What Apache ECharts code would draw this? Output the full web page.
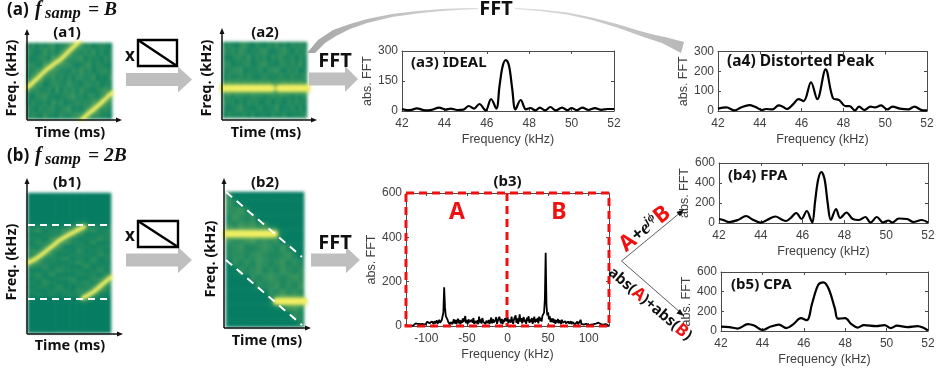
<!DOCTYPE html>
<html><head><meta charset="utf-8">
<style>
html,body{margin:0;padding:0;background:#fff;overflow:hidden}
#spec,#main{position:absolute;left:0;top:0;width:939px;height:372px}
#spec{filter:blur(1.6px)}
</style>
<script src="https://cdn.jsdelivr.net/npm/echarts@6/dist/echarts.min.js"></script>
</head><body>
<div id="spec"></div><div id="main"></div>
<script>
// ---------- FFT curves ----------
const a3Freq=[42,42.25,42.45,42.7,43.1,43.4,43.75,44.05,44.3,44.6,44.9,45.15,45.4,45.65,45.95,46.2,46.45,46.6,46.75,46.9,47.05,47.2,47.35,47.6,47.85,48.05,48.3,48.5,48.75,49,49.25,49.55,49.8,50,50.25,50.5,50.8,51.1,51.4,51.7,52];
const a3Amp=[10,4,6,13,3,6,17,7,12,5,7,25,12,35,3,60,12,125,225,255,225,110,8,55,8,15,3,17,3,20,3,17,4,15,4,17,5,14,6,10,10];
const a4Freq=[42,42.4,42.8,43.1,43.5,43.8,44.1,44.3,44.6,44.9,45.1,45.3,45.6,45.85,46.1,46.45,46.75,47.15,47.5,47.8,48.1,48.3,48.55,48.75,49,49.3,49.5,49.8,50.1,50.35,50.7,51.1,51.4,51.8,52];
const a4Amp=[12,18,3,18,30,20,5,10,8,28,22,10,35,60,50,145,60,210,65,55,25,25,3,22,5,22,18,28,8,22,12,8,22,3,3];
const b4Freq=[42,42.2,42.5,42.9,43.3,43.6,44,44.3,44.7,45,45.2,45.4,45.7,45.95,46.2,46.4,46.47,46.6,46.75,46.9,47.05,47.2,47.35,47.6,47.8,48.1,48.4,48.7,49,49.25,49.55,49.85,50.1,50.3,50.6,51,51.3,51.7,52];
const b4Amp=[40,30,10,30,70,35,3,30,65,35,20,45,100,40,120,30,3,220,440,510,440,200,30,140,50,105,40,30,60,5,60,5,25,5,45,40,10,30,5];
const b5Freq=[42,42.4,42.8,43.3,43.6,44,44.4,44.8,45.15,45.5,45.85,46.15,46.4,46.7,46.95,47.2,47.5,47.65,48,48.3,48.6,48.9,49.5,49.9,50.2,50.5,51,51.5,51.8,52];
const b5Amp=[45,40,25,70,55,10,45,65,30,70,130,110,280,470,495,430,230,125,130,70,35,60,50,60,30,55,40,50,30,5];
// full-band spectrum, one value per kHz from -125 to 125
const b3Amp=[
3,2,3,2,4,3,2,3,4,3,
5,9,12,10,7,9,6,4,8,11,
7,9,5,10,6,8,19,16,22,13,
18,11,20,14,9,22,12,17,25,10,
18,28,14,22,26,18,60,175,85,45,
52,30,18,24,7,18,26,8,16,30,
11,27,9,22,33,12,28,8,25,14,
34,18,10,45,13,26,8,30,17,24,
10,28,15,36,9,22,31,12,26,8,
42,16,30,11,36,20,12,28,9,24,
33,13,27,10,24,38,12,30,16,8,
26,40,10,22,15,42,24,12,32,9,
28,18,35,44,22,40,12,28,36,16,
42,20,10,30,24,48,14,34,10,26,
52,20,36,12,30,40,18,28,10,38,
22,44,14,30,18,36,10,26,42,16,
30,20,36,12,42,24,38,20,46,52,
60,120,330,95,48,62,30,44,18,34,
18,34,14,30,10,26,16,32,12,26,
24,10,28,14,20,8,22,12,18,6,
20,10,14,22,8,18,10,16,7,14,
10,20,7,12,9,28,10,8,14,6,
12,5,10,7,9,4,8,12,6,9,
5,8,4,7,11,14,16,15,12,13,
9,7,5,6,4,8,9,6,4,3,
2];
const b3Ticks=[-100,-50,0,50,100];

// ---------- spectrogram intensity cells (0-9), one string per row, top row first ----------
const a1Cells=["231323412232132312321","321242312341223241312","212331423122341322132","332142213332123413221","223241332213242312332","132322423131332241213","241312332242213323122","323223141323142212341","213342212234231331212","132231423122323242323","321323312341212332132","232142213223321223221"];
const a2Cells=["232134213213242313232","323243122342123421323","212332413231324223132","331223312342213323241","223341222313342132312","132232321232223223223","232323232323232323232","222222322232223222322","231322132212323221213","323131323123132132322","212342212312241223131","132223131221322312223"];
const b1Cells=["000000000000","000000000000","000000000000","000000000000","000000000000","000000000000","000000000000","000000000000","122112211221","231223122312","112211321122","221322112232","132113221311","212231122122","321122131221","122311222132","211223121312","132211232211","223122113122","112232221231","231311122212","122122311321","213211223112","122131122221","211222131122","121212212111","000000000000","000000000000","000000000000","000000000000","000000000000","000000000000","000000000000","000000000000","000000000000"];
const b2Cells=["3000000000000","4200000000000","3342000000000","2432300000000","3243423000000","2334232300000","3223423230000","2342234324200","2332343223420","0323243234232","0032342324323","0000323432343","0000032342324","0000000324232","0000000023423","0000000000342","0000000000032","0000000000002"];

// ---------- spectrogram ridges: [time fraction, frequency fraction] ----------
const a1Ridge1=[[0,.41],[.1,.51],[.2,.62],[.3,.71],[.4,.79],[.5,.9],[.62,1.02]];
const a1Ridge2=[[.63,-.02],[.72,.07],[.8,.14],[.9,.24],[1,.35]];
const a2Ridge1=[[0,.39],[.2,.39],[.4,.39],[.58,.39]];
const a2Ridge2=[[.67,.39],[.85,.39],[1,.39]];
const b1Ridge1=[[0,.5],[.12,.54],[.25,.6],[.4,.67],[.55,.72],[.68,.76]];
const b1Ridge2=[[.66,.25],[.78,.29],[.88,.34],[1,.4]];
const b2Ridge1=[[0,.69],[.2,.69],[.4,.69],[.62,.69]];
const b2Ridge2=[[.65,.19],[.8,.19],[1,.19]];

const MONO='"Noto Sans",sans-serif', HELV='"Liberation Sans",Arial,sans-serif', SER='"Liberation Serif",serif';

// ---------- spectrogram layer ----------
const specPanels=[
 {box:[27,43,85,76],cells:a1Cells,ridges:[a1Ridge1,a1Ridge2],w:4},
 {box:[223,42,84,76],cells:a2Cells,ridges:[a2Ridge1,a2Ridge2],w:7},
 {box:[28,193,83,140],cells:b1Cells,ridges:[b1Ridge1,b1Ridge2],w:4},
 {box:[226,192,78,135],cells:b2Cells,ridges:[b2Ridge1,b2Ridge2],w:7}
];
const sg=[],sx=[],sy=[],ss=[],heatIdx=[];
specPanels.forEach((p,i)=>{
  sg.push({left:p.box[0],top:p.box[1],width:p.box[2],height:p.box[3],containLabel:false});
  const rows=p.cells.length,cols=p.cells[0].length;
  const xi=sx.length,yi=sy.length;
  sx.push({type:'category',gridIndex:i,show:false,data:Array.from({length:cols},(_,k)=>k)},
          {type:'value',gridIndex:i,show:false,min:0,max:1});
  sy.push({type:'category',gridIndex:i,show:false,inverse:true,data:Array.from({length:rows},(_,k)=>k)},
          {type:'value',gridIndex:i,show:false,min:0,max:1});
  const d=[];
  p.cells.forEach((r,ri)=>{[...r].forEach((c,ci)=>d.push([ci,ri,+c]));});
  heatIdx.push(ss.length);
  ss.push({type:'heatmap',xAxisIndex:xi,yAxisIndex:yi,data:d,silent:true,animation:false,itemStyle:{borderWidth:0}});
  p.ridges.forEach(r=>{
    ss.push({type:'line',xAxisIndex:xi+1,yAxisIndex:yi+1,data:r,symbol:'none',smooth:.3,silent:true,animation:false,
      lineStyle:{color:'#f0ee62',width:p.w,cap:'round',shadowBlur:6,shadowColor:'#b8d45a'}});
  });
});
const spec=echarts.init(document.getElementById('spec'),null,{renderer:'canvas'});
spec.setOption({animation:false,grid:sg,xAxis:sx,yAxis:sy,series:ss,
  visualMap:{show:false,min:0,max:14,seriesIndex:heatIdx,inRange:{color:['#067d62','#3f975c','#a4c456','#f7f25e']}}});

// ---------- FFT panels ----------
const plots=[
 {box:[402,51,212,60],x:a3Freq,y:a3Amp,ymax:300,yt:150,gap:24,lw:2.2},
 {box:[718,51.5,209,59.5],x:a4Freq,y:a4Amp,ymax:300,yt:100,gap:23,lw:2.2},
 {box:[719,163,209,60],x:b4Freq,y:b4Amp,ymax:600,yt:200,gap:20,lw:2.2},
 {box:[721,272,207,59],x:b5Freq,y:b5Amp,ymax:600,yt:200,gap:20,lw:2.2},
 {box:[406,193,203,133],x:b3Amp.map((_,i)=>i-125),y:b3Amp,ymax:600,yt:200,gap:24,lw:1.8,wide:true}
];
const txt='#404040',axc='#4a4a4a';
const grid=[],xAxis=[],yAxis=[],series=[];
plots.forEach((p,i)=>{
  grid.push({left:p.box[0],top:p.box[1],width:p.box[2],height:p.box[3]});
  const xa=p.wide?{min:-125,max:125,axisTick:{inside:true,length:3,lineStyle:{color:axc},customValues:b3Ticks},axisLabel:{customValues:b3Ticks,color:txt,fontSize:12,fontFamily:HELV,margin:7}}
                 :{min:42,max:52,interval:2,axisTick:{inside:true,length:3,lineStyle:{color:axc}},axisLabel:{color:txt,fontSize:12,fontFamily:HELV,margin:7,hideOverlap:false}};
  const line={show:true,onZero:false,lineStyle:{color:axc,width:1}};
  const ya={min:0,max:p.ymax,interval:p.yt,axisTick:{show:true,inside:true,length:3,lineStyle:{color:axc}},axisLine:line,splitLine:{show:false}};
  xAxis.push(Object.assign({type:'value',gridIndex:i,position:'bottom',axisLine:line,splitLine:{show:false},
      name:'Frequency (kHz)',nameLocation:'middle',nameGap:22,nameTextStyle:{color:txt,fontSize:12.5,fontFamily:HELV}},xa));
  xAxis.push(Object.assign({type:'value',gridIndex:i,position:'top',axisLine:line,splitLine:{show:false}},xa,{axisLabel:{show:false},name:''}));
  yAxis.push(Object.assign({type:'value',gridIndex:i,position:'left',name:'abs. FFT',nameLocation:'middle',nameGap:p.gap,
      nameTextStyle:{color:txt,fontSize:12.5,fontFamily:HELV},axisLabel:{color:txt,fontSize:12,fontFamily:HELV,margin:4}},ya));
  yAxis.push(Object.assign({type:'value',gridIndex:i,position:'right',axisLabel:{show:false}},ya));
  series.push({type:'line',xAxisIndex:i*2,yAxisIndex:i*2,data:p.x.map((v,k)=>[v,p.y[k]]),symbol:'none',
    smooth:p.wide?false:.35,silent:true,animation:false,lineStyle:{color:'#000',width:p.lw}});
});

// ---------- annotations ----------
const G=[];
function T(text,x,y,size,o){o=o||{};
  G.push({type:'text',x,y,rotation:o.rot||0,silent:true,z:50,style:{text,fill:o.fill||'#111',
    font:(o.style||'bold')+' '+size+'px '+(o.fam||MONO),
    align:o.align||'center',textAlign:o.align||'center',verticalAlign:'middle',textVerticalAlign:'middle',rich:o.rich}});
}
function L(a,b,c,d,col,w,dash){G.push({type:'line',silent:true,z:40,shape:{x1:a,y1:b,x2:c,y2:d},style:{stroke:col,lineWidth:w,lineDash:dash||null}});}
function P(pts,col){G.push({type:'polygon',silent:true,z:40,shape:{points:pts},style:{fill:col}});}
function blockArrow(x0,x1,x2,cy){const g='#bfbfbf';P([[x0,cy-6.5],[x1,cy-6.5],[x1,cy-13],[x2,cy],[x1,cy+13],[x1,cy+6.5],[x0,cy+6.5]],g);}
function axesArrow(x0,y0,top,right){const c='#111';
  L(x0,y0,x0,top+5,c,1.5);L(x0,y0,right-5,y0,c,1.5);
  P([[x0,top],[x0-2.5,top+6],[x0+2.5,top+6]],c);P([[right,y0],[right-6,y0-2.5],[right-6,y0+2.5]],c);}
function windowBox(x,y,w,h){G.push({type:'rect',silent:true,z:40,shape:{x,y,width:w,height:h},style:{fill:'#fff',stroke:'#000',lineWidth:2.4}});L(x,y,x+w,y+h,'#000',2.4);}
function formula(y,rhs){
  const lab=y<50?'(a)':'(b)';
  T(lab,7,y,17,{align:'left'});
  T('f',35,y,20,{align:'left',style:'italic bold',fam:SER});
  T('samp',45,y+4,16.5,{align:'left',style:'italic bold',fam:SER});
  T(rhs,88,y,19.5,{align:'left',style:'italic bold',fam:SER});
}
formula(10,'= B'); formula(156,'= 2B');

axesArrow(27,120,29,122); axesArrow(222,120,28,317); axesArrow(27,334,178,123); axesArrow(224,328,178,311);
T('(a1)',67,33,15); T('(a2)',265,33,15); T('(b1)',67,183,15); T('(b2)',265,183,15);
T('Freq. (kHz)',12,78,14.5,{rot:Math.PI/2}); T('Freq. (kHz)',207,78,14.5,{rot:Math.PI/2});
T('Freq. (kHz)',12,262,14.5,{rot:Math.PI/2}); T('Freq. (kHz)',211,259,14.5,{rot:Math.PI/2});
T('Time (ms)',70,133,14.5); T('Time (ms)',266,133,14.5); T('Time (ms)',70,346,14.5); T('Time (ms)',267,341,14.5);

blockArrow(126,178,192,79.5); blockArrow(309,345,358,79); blockArrow(126,178,192,260); blockArrow(311,346,360,260);
windowBox(138,40,39,26); windowBox(138,221,40,26);
T('x',130,56,17); T('x',130,236,17);
T('FFT',335,61,20); T('FFT',335,243,20); T('FFT',496,9,20);

// curved FFT arrow, in two pieces either side of its label
G.push({type:'polygon',silent:true,z:30,shape:{points:[[307,53],[318,40],[333,30],[350,24],[367,19],[392,14],[417,11],[442,9],[467,8],[478,8],[478,9],[467,9.5],[442,11],[417,13.5],[392,17],[367,23],[350,29],[336,36],[325,43],[315,53]]},
  style:{fill:{type:'linear',x:0,y:0,x2:1,y2:0,colorStops:[{offset:0,color:'#a6a6a6'},{offset:1,color:'#dcdcdc'}]}}});
G.push({type:'polygon',silent:true,z:30,shape:{points:[[515,8],[540,9.5],[567,12.5],[592,17.5],[617,24],[640,31],[655,35],[665,37],[684,42],[681,53],[662,43],[645,37.5],[617,27.5],[592,20],[567,14.5],[540,11],[515,9]]},
  style:{fill:{type:'linear',x:0,y:0,x2:1,y2:0,colorStops:[{offset:0,color:'#dcdcdc'},{offset:1,color:'#b8b8b8'}]}}});

// spectrogram guide lines
L(28,225,111,225,'#fff',2,[7,5]); L(28,299,111,299,'#fff',2,[7,5]);
L(226,192,302,257,'#fff',2,[8,6]); L(226,260,302,325,'#fff',2,[8,6]);

// b3 red frames
G.push({type:'rect',silent:true,z:45,shape:{x:406,y:193,width:203,height:133},style:{fill:'none',stroke:'#f01010',lineWidth:3,lineDash:[8,5]}});
L(507,193,507,326,'#f01010',3,[8,5]);
T('A',457,212,23,{fill:'#f01010'}); T('B',559,212,23,{fill:'#f01010'}); T('(b3)',507.5,182,15);

T('(a3) IDEAL',411,63,15,{align:'left'});
T('(a4) Distorted Peak',727,62,15.5,{align:'left'});
T('(b4) FPA',728,176,15,{align:'left'});
T('(b5) CPA',731,285,15,{align:'left'});

// combination arrows
L(621.5,261,681,212,'#333',.8); P([[684,209.5],[676.5,212],[680,216.5]],'#111');
L(621.5,261,681,313,'#333',.8); P([[684,316],[676.5,313.5],[680,309]],'#111');
T('{r|A}{k|+}{e|e}{s|jϕ}{r|B}',645,229,15,{rot:.68,rich:{
  r:{fill:'#f01010',font:'bold 22px '+MONO},k:{fill:'#111',font:'bold 18px '+MONO},
  e:{fill:'#111',font:'italic bold 19px '+SER},s:{fill:'#111',font:'italic bold 12px '+SER,verticalAlign:'top'}}});
T('{k|abs(}{r|A}{k|)+abs(}{r|B}{k|)}',650,304,15,{rot:-.7,rich:{
  r:{fill:'#f01010',font:'bold 17px '+MONO},k:{fill:'#111',font:'bold 15px '+MONO}}});

const main=echarts.init(document.getElementById('main'),null,{renderer:'canvas'});
main.setOption({animation:false,backgroundColor:'transparent',grid,xAxis,yAxis,series,graphic:{elements:G}});
</script>
</body></html>
